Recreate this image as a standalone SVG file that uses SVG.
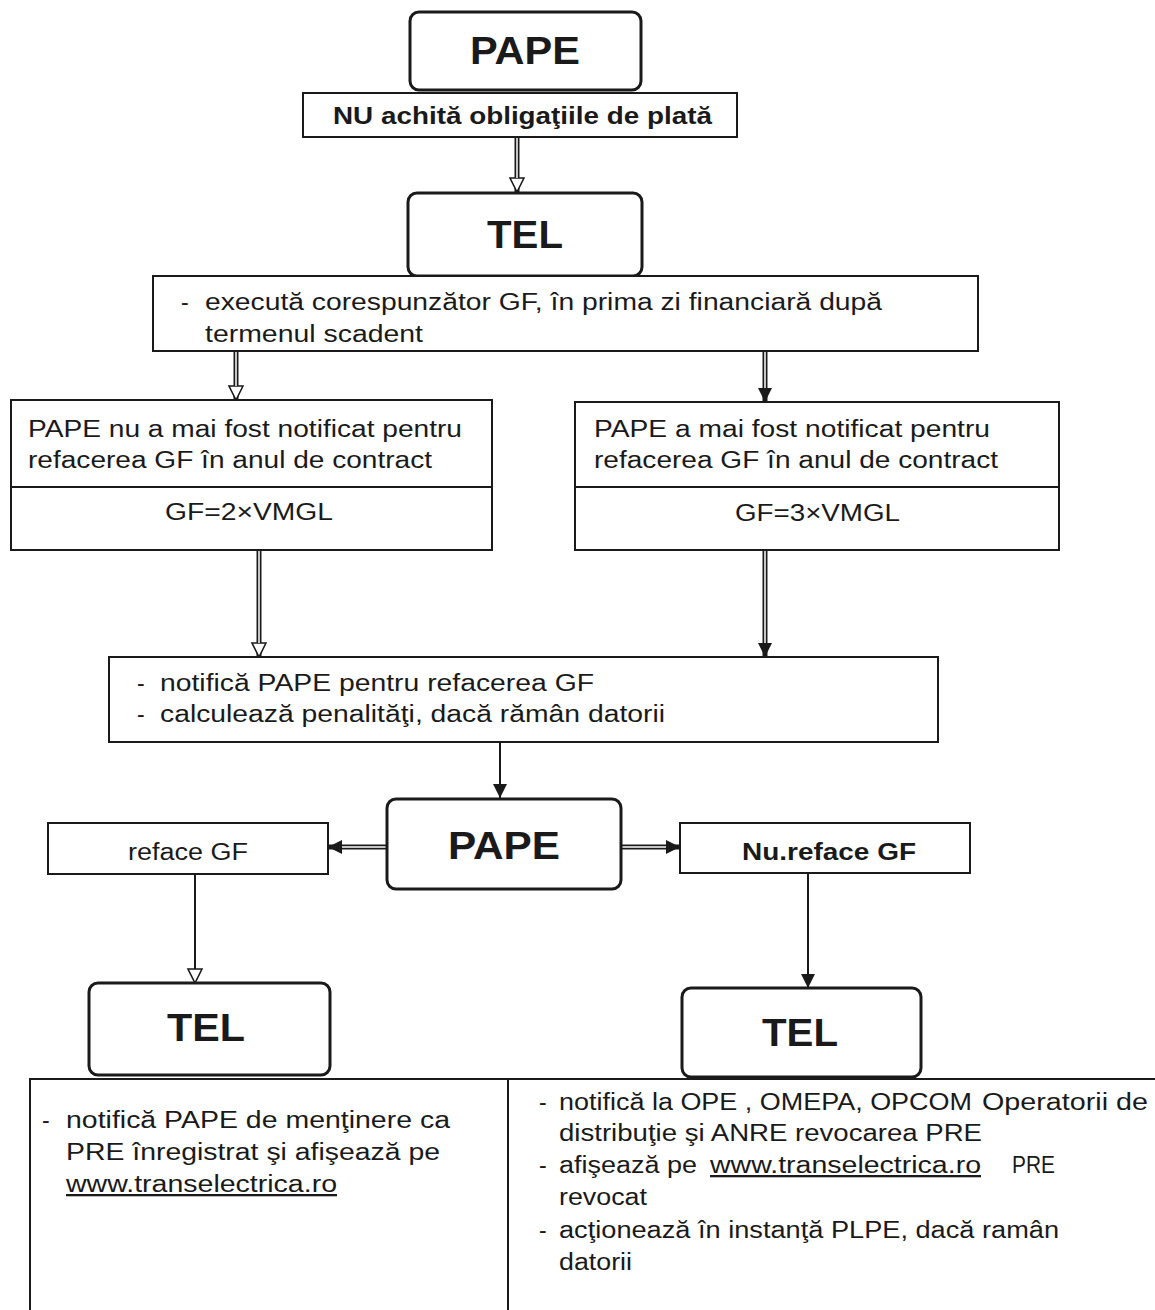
<svg xmlns="http://www.w3.org/2000/svg" width="1155" height="1310" viewBox="0 0 1155 1310">
<style>
text{font-family:"Liberation Sans",Arial,sans-serif;fill:#1a1a1a}
.t{font-size:23px}
.big{font-size:39px;font-weight:bold}
.b{font-weight:bold}
.box{fill:#fff;stroke:#1a1a1a;stroke-width:2}
.rbox{fill:#fff;stroke:#1a1a1a;stroke-width:3}
.ln{fill:none;stroke:#1a1a1a;stroke-width:2}
.dbl{fill:none;stroke:#1a1a1a;stroke-width:5}
.dblin{fill:none;stroke:#fff;stroke-width:1.5}
.sgl{fill:none;stroke:#1a1a1a;stroke-width:2}
</style>
<defs>
<marker id="af" markerUnits="userSpaceOnUse" markerWidth="16" markerHeight="16" refX="14" refY="7" orient="auto">
<path d="M0,0 L14,7 L0,14 Z" fill="#1a1a1a"/>
</marker>
<marker id="ah" markerUnits="userSpaceOnUse" markerWidth="18" markerHeight="18" refX="15" refY="8" orient="auto">
<path d="M1,1 L15,8 L1,15 Z" fill="#fff" stroke="#1a1a1a" stroke-width="1.6"/>
</marker>
</defs>

<g id="connectors">
<path class="dbl" d="M517,137 V192" marker-end="url(#ah)"/>
<path class="dblin" d="M517,137 V178"/>
<path class="dbl" d="M236,351 V400" marker-end="url(#ah)"/>
<path class="dblin" d="M236,351 V386"/>
<path class="dbl" d="M765,351 V402" marker-end="url(#af)"/>
<path class="dblin" d="M765,351 V388"/>
<path class="dbl" d="M259,550 V657" marker-end="url(#ah)"/>
<path class="dblin" d="M259,550 V643"/>
<path class="dbl" d="M765,550 V657" marker-end="url(#af)"/>
<path class="dblin" d="M765,550 V643"/>
<path class="sgl" d="M500,742 V798" marker-end="url(#af)"/>
<path class="dbl" d="M387,847 H328" marker-end="url(#af)"/>
<path class="dblin" d="M387,847 H342"/>
<path class="dbl" d="M621,847 H680" marker-end="url(#af)"/>
<path class="dblin" d="M621,847 H666"/>
<path class="sgl" d="M195,874 V983" marker-end="url(#ah)"/>
<path class="sgl" d="M808,873 V988" marker-end="url(#af)"/>
</g>

<g id="pape-top">
<rect class="rbox" x="410" y="12" width="231" height="78" rx="9"/>
<text class="big" x="470" y="64" textLength="110" lengthAdjust="spacingAndGlyphs">PAPE</text>
</g>

<g id="nu-achita">
<rect class="box" x="303" y="93" width="434" height="44"/>
<text class="t b" x="333" y="124" font-size="23" textLength="379" lengthAdjust="spacingAndGlyphs">NU achită obligaţiile de plată</text>
</g>

<g id="tel-top">
<rect class="rbox" x="408" y="193" width="234" height="83" rx="9"/>
<text class="big" x="487" y="248" font-size="42" textLength="76" lengthAdjust="spacingAndGlyphs">TEL</text>
</g>

<g id="executa">
<rect class="box" x="153" y="276" width="825" height="75"/>
<text class="t" x="181" y="310">-</text>
<text class="t" x="205" y="310" textLength="677" lengthAdjust="spacingAndGlyphs">execută corespunzător GF, în prima zi financiară după</text>
<text class="t" x="205" y="342" textLength="218" lengthAdjust="spacingAndGlyphs">termenul scadent</text>
</g>

<g id="nenotificat">
<rect class="box" x="11" y="400" width="481" height="150"/>
<line class="ln" x1="11" y1="487" x2="492" y2="487"/>
<text class="t" x="28" y="437" textLength="434" lengthAdjust="spacingAndGlyphs">PAPE nu a mai fost notificat pentru</text>
<text class="t" x="28" y="468" textLength="404" lengthAdjust="spacingAndGlyphs">refacerea GF în anul de contract</text>
<text class="t" x="165" y="520" textLength="168" lengthAdjust="spacingAndGlyphs">GF=2×VMGL</text>
</g>

<g id="notificat">
<rect class="box" x="575" y="402" width="484" height="148"/>
<line class="ln" x1="575" y1="487" x2="1059" y2="487"/>
<text class="t" x="594" y="437" textLength="396" lengthAdjust="spacingAndGlyphs">PAPE a mai fost notificat pentru</text>
<text class="t" x="594" y="468" textLength="404" lengthAdjust="spacingAndGlyphs">refacerea GF în anul de contract</text>
<text class="t" x="735" y="521" textLength="165" lengthAdjust="spacingAndGlyphs">GF=3×VMGL</text>
</g>

<g id="notifica">
<rect class="box" x="109" y="657" width="829" height="85"/>
<text class="t" x="137" y="691">-</text>
<text class="t" x="160" y="691" textLength="434" lengthAdjust="spacingAndGlyphs">notifică PAPE pentru refacerea GF</text>
<text class="t" x="137" y="722">-</text>
<text class="t" x="160" y="722" textLength="505" lengthAdjust="spacingAndGlyphs">calculează penalităţi, dacă rămân datorii</text>
</g>

<g id="pape-mid">
<rect class="rbox" x="387" y="799" width="234" height="90" rx="9"/>
<text class="big" x="448" y="859" textLength="112" lengthAdjust="spacingAndGlyphs">PAPE</text>
</g>

<g id="reface">
<rect class="box" x="48" y="823" width="280" height="51"/>
<text class="t" x="128" y="860" textLength="120" lengthAdjust="spacingAndGlyphs">reface GF</text>
</g>

<g id="nu-reface">
<rect class="box" x="680" y="823" width="290" height="50"/>
<text class="t b" x="742" y="860" textLength="174" lengthAdjust="spacingAndGlyphs">Nu.reface GF</text>
</g>

<g id="tel-left">
<rect class="rbox" x="89" y="983" width="241" height="92" rx="9"/>
<text class="big" x="167" y="1041" font-size="42" textLength="78" lengthAdjust="spacingAndGlyphs">TEL</text>
</g>

<g id="tel-right">
<rect class="rbox" x="682" y="988" width="239" height="89" rx="9"/>
<text class="big" x="762" y="1046" font-size="42" textLength="76" lengthAdjust="spacingAndGlyphs">TEL</text>
</g>

<g id="rezultat-stanga">
<path class="ln" d="M30,1315 V1079 H508 V1315"/>
<text class="t" x="42" y="1128">-</text>
<text class="t" x="66" y="1128" textLength="384" lengthAdjust="spacingAndGlyphs">notifică PAPE de menţinere ca</text>
<text class="t" x="66" y="1160" textLength="374" lengthAdjust="spacingAndGlyphs">PRE înregistrat şi afişează pe</text>
<text class="t" x="66" y="1192" textLength="271" lengthAdjust="spacingAndGlyphs" text-decoration="underline">www.transelectrica.ro</text>
</g>

<g id="rezultat-dreapta">
<path class="ln" d="M508,1079 H1160"/>
<text class="t" x="539" y="1110">-</text>
<text class="t" x="559" y="1110" textLength="413" lengthAdjust="spacingAndGlyphs">notifică la OPE , OMEPA, OPCOM</text>
<text class="t" x="982" y="1110" font-size="19" textLength="166" lengthAdjust="spacingAndGlyphs">Operatorii de</text>
<text class="t" x="559" y="1141" textLength="423" lengthAdjust="spacingAndGlyphs">distribuţie şi ANRE revocarea PRE</text>
<text class="t" x="539" y="1173">-</text>
<text class="t" x="559" y="1173" textLength="138" lengthAdjust="spacingAndGlyphs">afişează pe</text>
<text class="t" x="710" y="1173" textLength="271" lengthAdjust="spacingAndGlyphs" text-decoration="underline">www.transelectrica.ro</text>
<text class="t" x="1012" y="1173" textLength="43" lengthAdjust="spacingAndGlyphs">PRE</text>
<text class="t" x="559" y="1205" textLength="88" lengthAdjust="spacingAndGlyphs">revocat</text>
<text class="t" x="539" y="1238">-</text>
<text class="t" x="559" y="1238" textLength="500" lengthAdjust="spacingAndGlyphs">acţionează în instanţă PLPE, dacă ramân</text>
<text class="t" x="559" y="1270" textLength="73" lengthAdjust="spacingAndGlyphs">datorii</text>
</g>
</svg>
